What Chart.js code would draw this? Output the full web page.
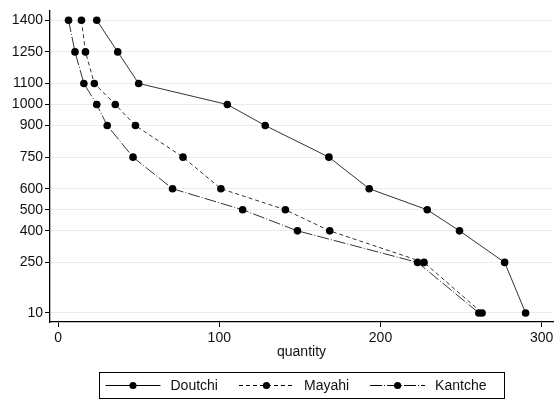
<!DOCTYPE html>
<html>
<head>
<meta charset="utf-8">
<script src="https://cdn.jsdelivr.net/npm/chart.js@4/dist/chart.umd.min.js"></script>
<style>
  html, body { margin: 0; padding: 0; background: #fff; }
  #wrap { width: 557px; height: 401px; position: relative; }
</style>
</head>
<body>
<div id="wrap"><canvas id="c" width="557" height="401"></canvas></div>
<script>
// Levels on the vertical axis (also used as tick labels)
const levels = [1400, 1250, 1100, 1000, 900, 750, 600, 500, 400, 250, 10];
const xTicks = [0, 100, 200, 300];

// Quantity per level for each site
const doutchi = [24, 37, 50, 105, 128.5, 168, 193, 229, 249, 277, 290];
const mayahi  = [14.5, 17, 22.5, 35.5, 48, 77.5, 101, 141, 168.5, 227, 263];
const kantche = [6.5, 10.5, 16, 24, 30.5, 46.5, 71, 114.5, 148.5, 223, 261];

const seriesNames = ['Doutchi', 'Mayahi', 'Kantche'];

const FONT = '"Liberation Sans", Arial, Helvetica, sans-serif';
const INK = '#111';
const LINE = '#333';

function toPoints(vals) {
  return vals.map((v, i) => ({ x: v, y: levels[i] }));
}

const dashes = [[], [4, 3], [12, 2, 1, 2]];
const seriesData = [doutchi, mayahi, kantche];

const datasets = seriesNames.map((name, i) => ({
  label: name,
  data: toPoints(seriesData[i]),
  borderColor: LINE,
  borderWidth: 1,
  borderDash: dashes[i],
  pointRadius: 3.8,
  pointHoverRadius: 3.8,
  pointBackgroundColor: '#000',
  pointBorderColor: '#000',
  pointBorderWidth: 0,
  tension: 0,
  fill: false
}));

// Boxed legend below the plot: line sample with a marker, then the name
const boxedLegend = {
  id: 'boxedLegend',
  afterDraw(chart) {
    const ctx = chart.ctx;
    const area = chart.chartArea;
    const w = 405, h = 26;
    const cx = (area.left + area.right) / 2;
    const x0 = Math.round(cx - w / 2) + 0.5;
    const y0 = area.bottom + 50 + 0.5;
    ctx.save();
    ctx.strokeStyle = '#000';
    ctx.lineWidth = 1;
    ctx.setLineDash([]);
    ctx.strokeRect(x0, y0, w, h);
    ctx.font = '14px ' + FONT;
    ctx.textBaseline = 'middle';
    ctx.fillStyle = INK;
    const yc = y0 + h / 2;
    let x = x0 + 6;
    chart.data.datasets.forEach((ds) => {
      const sampleLen = 55;
      ctx.strokeStyle = '#000';
      ctx.lineWidth = 1;
      ctx.setLineDash(ds.borderDash || []);
      ctx.beginPath();
      ctx.moveTo(x, yc);
      ctx.lineTo(x + sampleLen, yc);
      ctx.stroke();
      ctx.setLineDash([]);
      ctx.beginPath();
      ctx.arc(x + sampleLen / 2, yc, 3.6, 0, Math.PI * 2);
      ctx.fillStyle = '#000';
      ctx.fill();
      ctx.fillStyle = INK;
      ctx.textAlign = 'left';
      const tx = x + sampleLen + 10;
      ctx.fillText(ds.label, tx, yc + 1);
      x = tx + ctx.measureText(ds.label).width + 21;
    });
    ctx.restore();
  }
};

const plainLabel = (v) => String(v);

new Chart(document.getElementById('c'), {
  type: 'line',
  data: { datasets },
  plugins: [boxedLegend],
  options: {
    responsive: false,
    animation: false,
    parsing: true,
    layout: { padding: { top: 9, right: 4, bottom: 39, left: 0 } },
    plugins: {
      legend: { display: false },
      tooltip: { enabled: false }
    },
    scales: {
      x: {
        type: 'linear',
        min: -5,
        max: 307,
        afterBuildTicks(scale) { scale.ticks = xTicks.map(v => ({ value: v })); },
        afterFit(scale) { scale.height = 40; },
        grid: {
          drawOnChartArea: false,
          drawTicks: true,
          tickLength: 5,
          tickColor: '#000'
        },
        border: { display: true, color: '#000', width: 1.3 },
        ticks: {
          color: INK,
          font: { family: FONT, size: 14 },
          padding: 3,
          maxRotation: 0,
          callback: plainLabel
        },
        title: {
          display: true,
          text: 'quantity',
          color: INK,
          font: { family: FONT, size: 14 },
          padding: { top: 0, bottom: 1 }
        }
      },
      y: {
        type: 'linear',
        min: -33,
        max: 1447,
        afterBuildTicks(scale) { scale.ticks = levels.map(v => ({ value: v })); },
        afterFit(scale) { scale.width = 50; },
        grid: {
          color: '#e6efef',
          lineWidth: 1,
          drawTicks: true,
          tickLength: 5,
          tickColor: '#000'
        },
        border: { display: true, color: '#000', width: 1.3 },
        ticks: {
          color: INK,
          font: { family: FONT, size: 14 },
          padding: 2,
          autoSkip: false,
          callback: plainLabel
        }
      }
    }
  }
});
</script>
</body>
</html>
